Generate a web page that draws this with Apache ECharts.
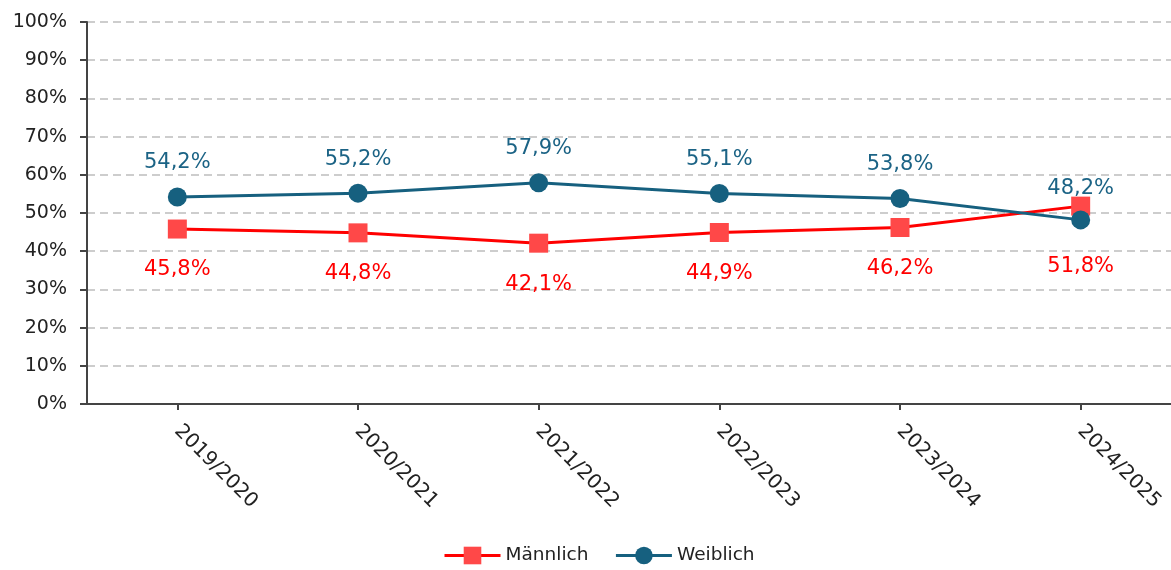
<!DOCTYPE html>
<html>
<head>
<meta charset="utf-8">
<script src="https://cdn.jsdelivr.net/npm/echarts@6/dist/echarts.min.js"></script>
<style>
  html, body { margin: 0; padding: 0; background: #fff; }
  #main { width: 1171px; height: 570px; }
</style>
</head>
<body>
<div id="main"></div>
<script>
var categories = ['2019/2020', '2020/2021', '2021/2022', '2022/2023', '2023/2024', '2024/2025'];
var maennlich = [45.8, 44.8, 42.1, 44.9, 46.2, 51.8];
var weiblich = [54.2, 55.2, 57.9, 55.1, 53.8, 48.2];
var yTicks = [0, 10, 20, 30, 40, 50, 60, 70, 80, 90, 100];

var fontMain = '"DejaVu Sans", sans-serif';

function pct(v) {
    return v.toFixed(1).replace('.', ',') + '%';
}

var myChart = echarts.init(document.getElementById('main'));
var option = {
    backgroundColor: '#fff',
    animation: false,
    grid: {
        left: 87,
        right: -2,
        top: 22,
        bottom: 166
    },
    legend: {
        top: 541,
        left: 438,
        itemWidth: 56,
        itemHeight: 22,
        itemGap: 26,
        lineStyle: { width: 3 },
        textStyle: { fontFamily: fontMain, fontSize: 18.5, color: '#222' },
        data: ['Männlich', 'Weiblich']
    },
    xAxis: {
        type: 'category',
        data: categories,
        boundaryGap: true,
        axisLine: { lineStyle: { color: '#444', width: 2 } },
        axisTick: { show: true, alignWithLabel: true, length: 6, lineStyle: { color: '#444', width: 2 } },
        axisLabel: {
            rotate: -45,
            margin: 24,
            fontFamily: fontMain,
            fontSize: 20,
            color: '#222'
        }
    },
    yAxis: {
        type: 'value',
        min: 0,
        max: 100,
        interval: 10,
        axisLine: { show: true, lineStyle: { color: '#444', width: 2 } },
        axisTick: { show: true, length: 7, lineStyle: { color: '#444', width: 2 } },
        axisLabel: {
            fontFamily: fontMain,
            fontSize: 19,
            color: '#222',
            margin: 20,
            formatter: function (v) { return yTicks.indexOf(v) >= 0 ? v + '%' : ''; }
        },
        splitLine: { lineStyle: { color: '#bdbdbd', type: [8, 5], width: 1.5 } }
    },
    series: [
        {
            name: 'Männlich',
            type: 'line',
            data: maennlich,
            symbol: 'rect',
            symbolSize: 19,
            lineStyle: { color: '#ff0000', width: 3 },
            itemStyle: { color: '#ff4848' },
            label: {
                show: true,
                position: 'bottom',
                distance: 21,
                fontFamily: fontMain,
                fontSize: 21,
                color: '#ff0000',
                formatter: function (p) { return pct(p.value); }
            },
            z: 2
        },
        {
            name: 'Weiblich',
            type: 'line',
            data: weiblich,
            symbol: 'circle',
            symbolSize: 19,
            lineStyle: { color: '#16607f', width: 3 },
            itemStyle: { color: '#16607f' },
            label: {
                show: true,
                position: 'top',
                distance: 14,
                fontFamily: fontMain,
                fontSize: 21,
                color: '#1b6385',
                formatter: function (p) { return pct(p.value); }
            },
            z: 3
        }
    ]
};
option.series[1].data = weiblich.map(function (v, i) {
    if (i === weiblich.length - 1) {
        return { value: v, label: { distance: 11 } };
    }
    return v;
});
option.series[0].data = maennlich.map(function (v, i) {
    if (i === maennlich.length - 1) {
        return { value: v, label: { distance: 40 } };
    }
    return v;
});
myChart.setOption(option);
</script>
</body>
</html>
